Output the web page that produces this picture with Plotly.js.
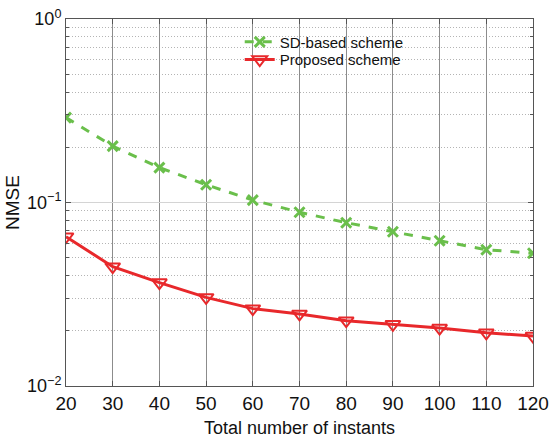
<!DOCTYPE html>
<html>
<head>
<meta charset="utf-8">
<script src="https://cdn.plot.ly/plotly-3.0.1.min.js"></script>
<style>html,body{margin:0;padding:0;background:#fff;}#chart{width:551px;height:438px;}</style>
</head>
<body>
<div id="chart"></div>
<script>
var instants = [20, 30, 40, 50, 60, 70, 80, 90, 100, 110, 120];
var sdBased = [0.290, 0.203, 0.155, 0.125, 0.103, 0.0885, 0.0776, 0.0693, 0.0619, 0.0553, 0.0529];
var proposed = [0.0651, 0.0447, 0.0366, 0.0304, 0.0264, 0.0247, 0.0227, 0.0217, 0.0207, 0.0195, 0.0187];
var seriesNames = ['SD-based scheme', 'Proposed scheme'];
var yTickVals = [0.01, 0.1, 1];
var yTickText = ['10<sup>\u22122</sup>', '10<sup>\u22121</sup>', '10<sup>0</sup>'];
var yMinorVals = [0.02,0.03,0.04,0.05,0.06,0.07,0.08,0.09,0.2,0.3,0.4,0.5,0.6,0.7,0.8,0.9];

var font = 'Liberation Sans, Arial, sans-serif';
var traces = [
  {
    x: instants, y: sdBased, name: seriesNames[0], mode: 'lines+markers', legend: 'legend',
    line: {color: '#6abf4b', width: 3, dash: 'dash'},
    marker: {symbol: 'x-thin-open', size: 10, color: '#6abf4b', line: {color: '#6abf4b', width: 3}}
  },
  {
    x: instants, y: proposed, name: seriesNames[1], mode: 'lines+markers', legend: 'legend2',
    line: {color: '#e8282b', width: 3},
    marker: {symbol: 'triangle-down-open', size: 13, color: '#e8282b', line: {color: '#e8282b', width: 2}}
  }
];

var legendBase = {xanchor: 'left', yanchor: 'middle', bgcolor: 'rgba(0,0,0,0)',
                  font: {family: font, size: 15, color: '#111'}};
var layout = {
  width: 551, height: 438,
  margin: {l: 66, r: 18, t: 19, b: 52},
  paper_bgcolor: '#fff', plot_bgcolor: '#fff',
  font: {family: font, size: 18, color: '#111'},
  showlegend: true,
  legend: Object.assign({x: 0.372, y: 0.937}, legendBase),
  legend2: Object.assign({x: 0.372, y: 0.889}, legendBase),
  xaxis: {
    range: [20, 120], tickmode: 'array', tickvals: instants,
    ticks: 'inside', ticklen: 5, tickcolor: '#555', mirror: 'ticks',
    showline: true, linecolor: '#555', linewidth: 1,
    showgrid: true, gridcolor: '#8c8c8c', gridwidth: 1, zeroline: false,
    title: {text: 'Total number of instants', font: {family: font, size: 18}, standoff: 8},
    tickfont: {family: font, size: 19}
  },
  yaxis: {
    type: 'log', range: [-2, 0], tickmode: 'array', tickvals: yTickVals, ticktext: yTickText,
    ticks: 'inside', ticklen: 5, tickcolor: '#555', mirror: 'ticks',
    showline: true, linecolor: '#555', linewidth: 1,
    showgrid: true, gridcolor: '#d4d4d4', gridwidth: 1, zeroline: false,
    minor: {tickmode: 'array', tickvals: yMinorVals, showgrid: true, gridcolor: '#b4b4b4', griddash: '1px,2px',
            ticks: 'inside', ticklen: 3, tickcolor: '#555'},
    title: {text: 'NMSE', font: {family: font, size: 19}, standoff: 2},
    tickfont: {family: font, size: 18}
  }
};

Plotly.newPlot('chart', traces, layout, {displayModeBar: false, staticPlot: true});
</script>
</body>
</html>
